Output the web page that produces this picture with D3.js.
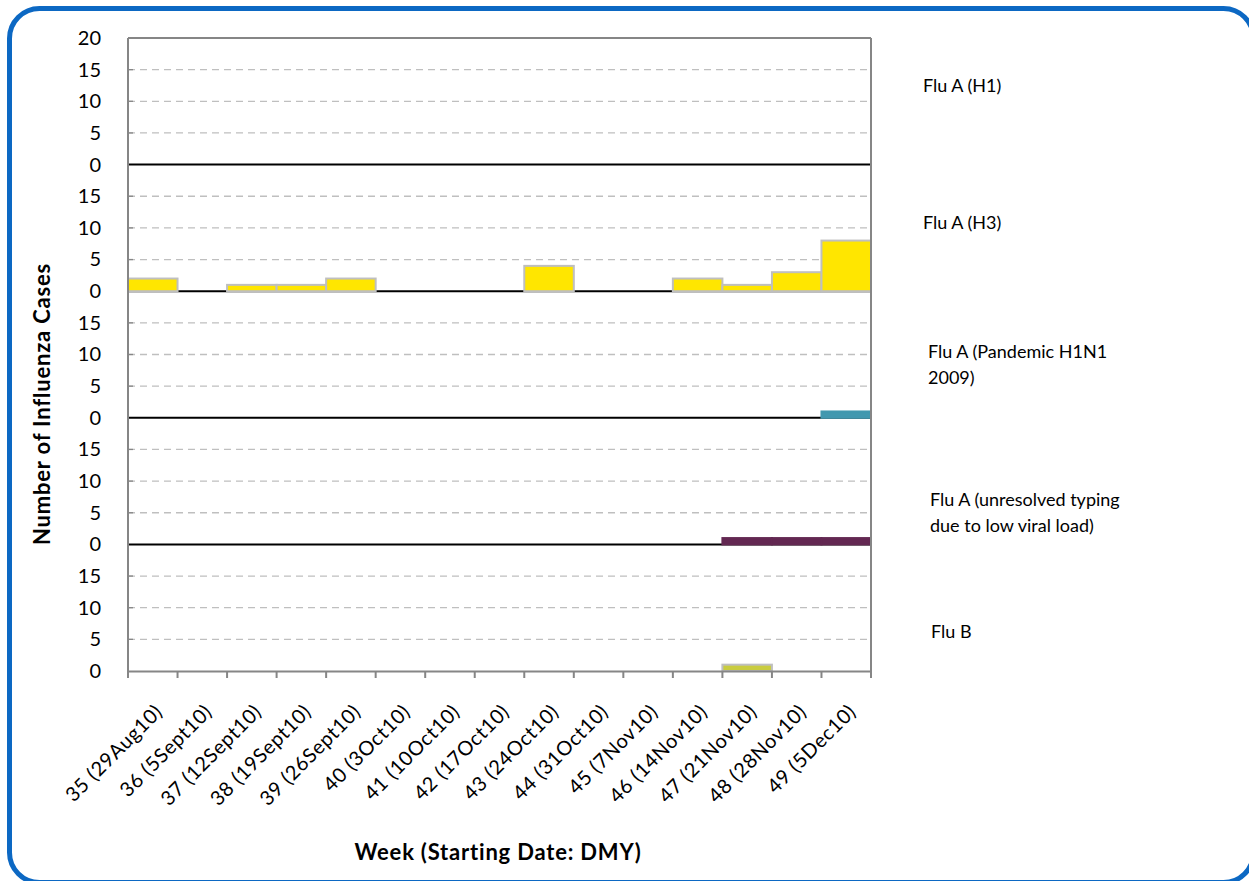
<!DOCTYPE html>
<html><head><meta charset="utf-8">
<script src="https://cdn.jsdelivr.net/npm/d3@7"></script>
<style>body{margin:0;background:#fff}svg{display:block}</style>
</head><body>
<script>
const weeks = ["35 (29Aug10)","36 (5Sept10)","37 (12Sept10)","38 (19Sept10)","39 (26Sept10)","40 (3Oct10)","41 (10Oct10)","42 (17Oct10)","43 (24Oct10)","44 (31Oct10)","45 (7Nov10)","46 (14Nov10)","47 (21Nov10)","48 (28Nov10)","49 (5Dec10)"];
const fluAH1 =       [0,0,0,0,0,0,0,0,0,0,0,0,0,0,0];
const fluAH3 =       [2,0,1,1,2,0,0,0,4,0,0,2,1,3,8];
const fluAPandemic = [0,0,0,0,0,0,0,0,0,0,0,0,0,0,1];
const fluAUnresolved=[0,0,0,0,0,0,0,0,0,0,0,0,1,1,1];
const fluB =         [0,0,0,0,0,0,0,0,0,0,0,0,1,0,0];
const panelNames = [["Flu A (H1)"],["Flu A (H3)"],["Flu A (Pandemic H1N1","2009)"],["Flu A (unresolved typing","due to low viral load)"],["Flu B"]];
const yTicksTop = [0,5,10,15,20];
const yTicksOther = [0,5,10,15];
const yMax = 20;

(function(){
const W=1249,H=881;
const svg=d3.select("body").append("svg").attr("width",W).attr("height",H);
const font="Lato, 'Open Sans', sans-serif";
svg.append("rect").attr("x",9.5).attr("y",8.5).attr("width",1244).attr("height",874).attr("rx",30)
  .attr("fill","#fff").attr("stroke","#0C68C3").attr("stroke-width",5);

const mL=128,mR=871,mT=38,mB=671;
const panels=[
  {vals:fluAH1,fill:"#FFE600",stroke:"#BFBFBF"},
  {vals:fluAH3,fill:"#FFE600",stroke:"#BFBFBF"},
  {vals:fluAPandemic,fill:"#4198AF",stroke:"#4198AF"},
  {vals:fluAUnresolved,fill:"#632852",stroke:"#632852"},
  {vals:fluB,fill:"#C9CC3F",stroke:"#BFBFBF"}
];
const ph=(mB-mT)/panels.length;
const x=d3.scaleBand().domain(weeks).range([mL,mR]).padding(0);

panels.forEach((p,i)=>{
  const base=mT+ph*(i+1);
  const y=d3.scaleLinear().domain([0,yMax]).range([base,base-ph]);
  const g=svg.append("g");
  g.selectAll("line.grid").data([5,10,15]).join("line")
    .attr("x1",mL).attr("x2",mR).attr("y1",d=>y(d)).attr("y2",d=>y(d))
    .attr("stroke","#BFBFBF").attr("stroke-width",1.3).attr("stroke-dasharray","7,5");
  const ax=d3.axisLeft(y).tickValues(i===0?yTicksTop:yTicksOther).tickSize(0).tickPadding(27);
  const axg=g.append("g").attr("transform",`translate(${mL},0)`).call(ax);
  axg.select(".domain").remove();
  axg.selectAll("text").attr("font-family",font).attr("font-size",20).attr("fill","#000");
  g.selectAll("line.tk").data([5,10,15]).join("line")
    .attr("x1",mL).attr("x2",mL+5).attr("y1",d=>y(d)).attr("y2",d=>y(d)).attr("stroke","#868686").attr("stroke-width",1.3);
  if(i<panels.length-1){
    g.append("line").attr("x1",mL).attr("x2",mR).attr("y1",base).attr("y2",base).attr("stroke","#000").attr("stroke-width",2);
  }
  g.selectAll("rect.bar").data(p.vals.map((v,j)=>({v,w:weeks[j]})).filter(d=>d.v>0)).join("rect")
    .attr("x",d=>x(d.w)).attr("width",x.bandwidth())
    .attr("y",d=>y(d.v)).attr("height",d=>y(0)-y(d.v))
    .attr("fill",p.fill).attr("stroke",p.stroke).attr("stroke-width",2);
  const lx=[923,923,928,930,931][i];
  const ly=[86,223,352,500,632][i];
  const t=svg.append("text").attr("font-family",font).attr("font-size",18).attr("fill","#000");
  panelNames[i].forEach((s,k)=>t.append("tspan").attr("x",lx).attr("y",ly+k*26+6).text(s));
});

svg.append("line").attr("x1",mL).attr("x2",mR).attr("y1",mT).attr("y2",mT).attr("stroke","#868686").attr("stroke-width",2);
svg.append("line").attr("x1",mR).attr("x2",mR).attr("y1",mT).attr("y2",mB+7).attr("stroke","#868686").attr("stroke-width",2);
svg.append("line").attr("x1",mL).attr("x2",mL).attr("y1",mT).attr("y2",mB+7).attr("stroke","#868686").attr("stroke-width",2);

const xa=d3.axisBottom(x).tickSize(0).tickFormat("");
const xg=svg.append("g").attr("transform",`translate(0,${mB})`).call(xa);
xg.select(".domain").attr("stroke","#868686").attr("stroke-width",2);
svg.selectAll("line.xt").data(weeks).join("line")
  .attr("x1",d=>x(d)+x.bandwidth()).attr("x2",d=>x(d)+x.bandwidth())
  .attr("y1",mB).attr("y2",mB+7).attr("stroke","#868686").attr("stroke-width",2);
svg.selectAll("text.xl").data(weeks).join("text")
  .attr("font-family",font).attr("font-size",20).attr("letter-spacing",0.6).attr("text-anchor","end")
  .attr("transform",d=>`translate(${x(d)+x.bandwidth()/2+11},${mB+42}) rotate(-45)`)
  .text(d=>d);

svg.append("text").attr("x",498).attr("y",860).attr("text-anchor","middle").attr("letter-spacing",0.8)
  .attr("font-family",font).attr("font-size",22).attr("font-weight","bold").text("Week (Starting Date: DMY)");
svg.append("text").attr("transform","translate(50,404) rotate(-90)").attr("text-anchor","middle").attr("letter-spacing",0.8)
  .attr("font-family",font).attr("font-size",22).attr("font-weight","bold").text("Number of Influenza Cases");
})();
</script>
</body></html>
